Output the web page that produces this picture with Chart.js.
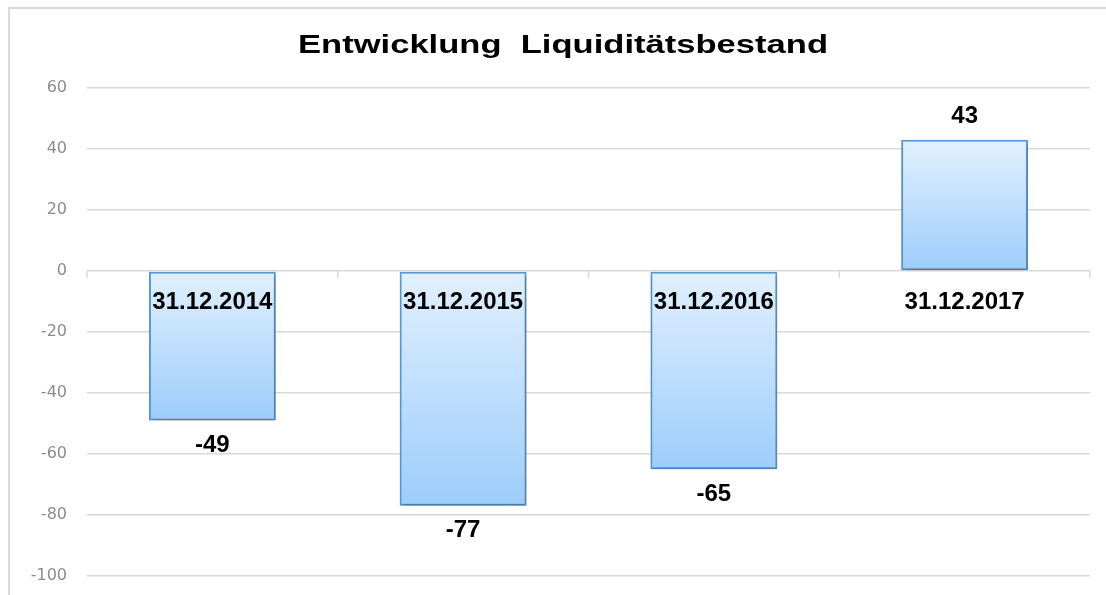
<!DOCTYPE html>
<html>
<head>
<meta charset="utf-8">
<script src="https://cdn.jsdelivr.net/npm/chart.js@4"></script>
<style>
  html, body { margin: 0; padding: 0; background: #ffffff; }
  #wrap { width: 1106px; height: 595px; }
</style>
</head>
<body>
<div id="wrap"><canvas id="c" width="1106" height="595"></canvas></div>
<script>
const chartTitle = 'Entwicklung  Liquiditätsbestand';
const categories = ['31.12.2014', '31.12.2015', '31.12.2016', '31.12.2017'];
const values = [-49, -77, -65, 43];
const yMin = -100;
const yMax = 60;
const yStep = 20;

function barGradient(ctx) {
  const chart = ctx.chart;
  const ys = chart.scales && chart.scales.y;
  if (!ys || !ctx.parsed) return '#c4e0fc';
  const v = ctx.parsed.y;
  const p0 = ys.getPixelForValue(0);
  const p1 = ys.getPixelForValue(v);
  if (!isFinite(p0) || !isFinite(p1)) return '#c4e0fc';
  const top = Math.min(p0, p1), bot = Math.max(p0, p1);
  if (bot - top < 1) return '#c4e0fc';
  const g = chart.ctx.createLinearGradient(0, top, 0, bot);
  g.addColorStop(0, '#e2f0fe');
  g.addColorStop(1, '#9ccdfb');
  return g;
}

const decorPlugin = {
  id: 'decor',
  beforeDraw(chart) {
    const c = chart.ctx;
    c.save();
    c.strokeStyle = '#d9d9d9';
    c.lineWidth = 2;
    c.strokeRect(9, 8, 1300, 800);
    c.font = 'bold 26px "Liberation Sans", Arial, sans-serif';
    c.fillStyle = '#000000';
    c.textBaseline = 'alphabetic';
    c.textAlign = 'center';
    const w = c.measureText(chartTitle).width;
    const sx = 530 / w;
    c.translate(563, 53);
    c.scale(sx, 1);
    c.fillText(chartTitle, 0, 0);
    c.restore();
  },
  beforeDatasetsDraw(chart) {
    const c = chart.ctx;
    c.save();
    c.shadowColor = 'rgba(0,0,0,0.28)';
    c.shadowBlur = 4;
    c.shadowOffsetX = 1;
    c.shadowOffsetY = 2;
  },
  afterDatasetsDraw(chart) {
    const c = chart.ctx;
    c.restore();
    const xs = chart.scales.x, ys = chart.scales.y;
    const zero = ys.getPixelForValue(0);
    const area = chart.chartArea;
    c.save();
    c.strokeStyle = '#d9d9d9';
    c.lineWidth = 1.5;
    const bounds = [area.left];
    for (let i = 0; i < categories.length - 1; i++) {
      bounds.push((xs.getPixelForValue(i) + xs.getPixelForValue(i + 1)) / 2);
    }
    bounds.push(area.right);
    bounds.forEach(bx => {
      c.beginPath();
      c.moveTo(bx, zero);
      c.lineTo(bx, zero + 7);
      c.stroke();
    });
    c.fillStyle = '#000000';
    c.textAlign = 'center';
    c.textBaseline = 'middle';
    c.font = 'bold 24px "Liberation Sans", Arial, sans-serif';
    categories.forEach((lab, i) => {
      c.fillText(lab, xs.getPixelForValue(i), zero + 31);
    });
    values.forEach((v, i) => {
      const py = ys.getPixelForValue(v);
      const y = v < 0 ? py + 25 : py - 23;
      c.fillText(String(v), xs.getPixelForValue(i), y);
    });
    c.restore();
  }
};

new Chart(document.getElementById('c'), {
  type: 'bar',
  data: {
    labels: categories,
    datasets: [{
      data: values,
      backgroundColor: barGradient,
      borderColor: '#5b9bd5',
      borderWidth: 2,
      borderSkipped: false,
      categoryPercentage: 1.0,
      barPercentage: 0.506
    }]
  },
  options: {
    responsive: false,
    animation: false,
    devicePixelRatio: 1,
    layout: { padding: { left: 0, right: 16, top: 88, bottom: 19 } },
    plugins: {
      legend: { display: false },
      title: { display: false },
      tooltip: { enabled: false }
    },
    scales: {
      x: {
        display: false
      },
      y: {
        min: yMin,
        max: yMax,
        ticks: {
          stepSize: yStep,
          padding: 20,
          color: '#8c8c8c',
          font: { family: '"DejaVu Sans", sans-serif', size: 16 }
        },
        grid: {
          color: '#d9d9d9',
          lineWidth: 1.5,
          drawTicks: false
        },
        border: { display: false },
        afterFit(scale) {
          scale.width = 87;
          scale.paddingTop = 0;
          scale.paddingBottom = 0;
        }
      }
    }
  },
  plugins: [decorPlugin]
});
</script>
</body>
</html>
